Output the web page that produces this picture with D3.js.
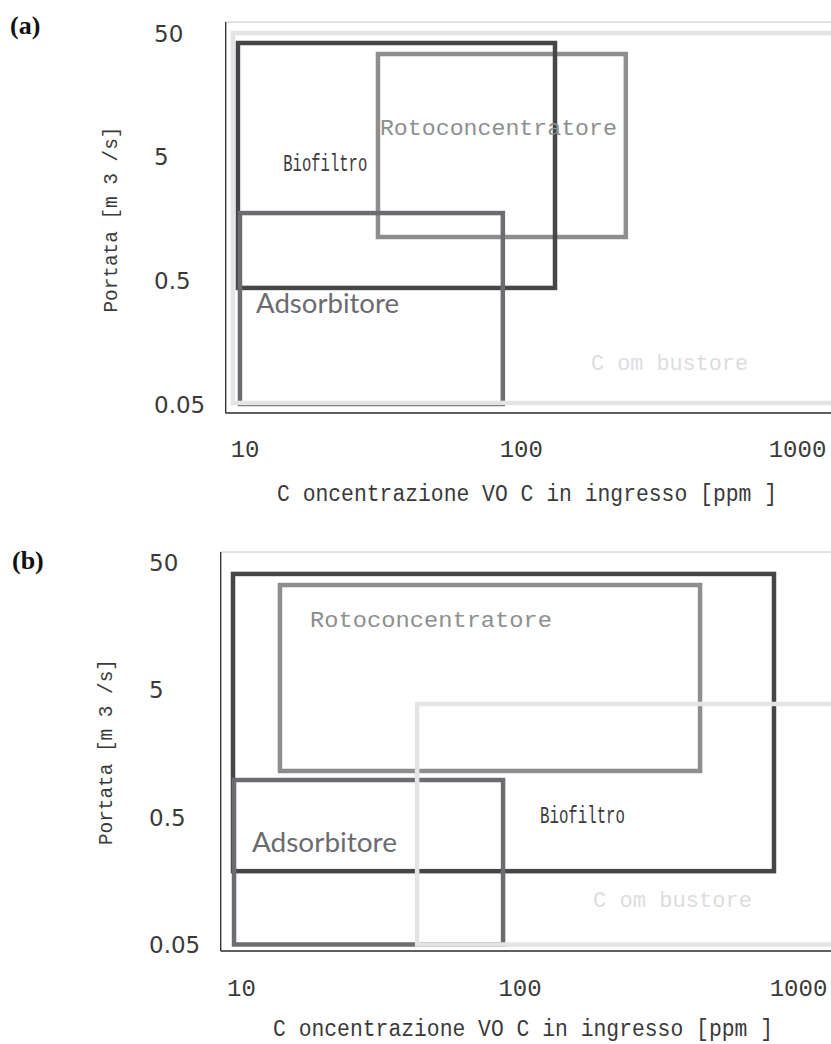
<!DOCTYPE html>
<html>
<head>
<meta charset="utf-8">
<script src="https://cdn.jsdelivr.net/npm/d3@7"></script>
<style>
  html, body { margin: 0; padding: 0; background: #fff; }
  svg { display: block; }
</style>
</head>
<body>
<svg id="chart" width="831" height="1044"></svg>
<script>
// ---------------- DATA ----------------
const panelNames = ["(a)", "(b)"];
const technologies = ["Rotoconcentratore", "Biofiltro", "Adsorbitore", "Combustore"];
const techLabels = ["Rotoconcentratore", "Biofiltro", "Adsorbitore", "C om bustore"];

// panel (a): operating ranges [VOC ppm] x [m3/s]
const xMinA = [30.4, 9.46, 9.62, 9.08];
const xMaxA = [240, 133, 86.1, 1400];
const yMinA = [1.12, 0.434, 0.05, 0.051];
const yMaxA = [33.8, 41.5, 1.75, 50];
const labelXA = [30.9, 13.8, 11.0, 179.6];
const labelYA = [7.48, 3.83, 0.272, 0.094];

// panel (b)
const xMinB = [13.8, 9.36, 9.44, 42.9];
const xMaxB = [445, 820, 87.3, 1500];
const yMinB = [1.148, 0.188, 0.05, 0.05];
const yMaxB = [33.0, 40.3, 0.975, 3.85];
const labelXB = [17.7, 118.5, 10.95, 183.6];
const labelYB = [15.5, 0.449, 0.266, 0.0984];

const xTicks = [10, 100, 1000];
const xTickLabels = ["10", "100", "1000"];
const yTicks = [50, 5, 0.5, 0.05];
const yTickLabels = ["50", "5", "0.5", "0.05"];
const xTitle = "C oncentrazione VO C in ingresso [ppm ]";
const yTitle = "Portata [m 3 /s]";

// ---------------- STYLE / LAYOUT ----------------
const techColors = ["#8d8f8f", "#464648", "#6c6c70", "#e4e4e7"];
const techTextColors = ["#8d8f8f", "#3a3a3c", "#6c6c70", "#dcdcdf"];
const techFont = [
  { family: "Liberation Mono", size: 22, len: [237, 242] },
  { family: "Liberation Mono", size: 23, len: [84, 85] },
  { family: "Lato", size: 26, len: [143, 145] },
  { family: "Liberation Mono", size: 22, len: [157, 159] }
];
const layouts = [
  { xr: [244.6, 797], yr: [404, 33], frameL: 225.7, frameT: 22, frameB: 413,
    yTickX: 154, yTitleX: 117, yTitleY: 219.5, xTickY: 457, xTitleY: 501, xTitleX: 527,
    nameX: 10, nameY: 34,
    xMin: xMinA, xMax: xMaxA, yMin: yMinA, yMax: yMaxA, lx: labelXA, ly: labelYA },
  { xr: [241, 798], yr: [944.5, 562], frameL: 220.7, frameT: 552, frameB: 951,
    yTickX: 149, yTitleX: 112, yTitleY: 752, xTickY: 996, xTitleY: 1036, xTitleX: 523,
    nameX: 12, nameY: 569,
    xMin: xMinB, xMax: xMaxB, yMin: yMinB, yMax: yMaxB, lx: labelXB, ly: labelYB }
];

const svg = d3.select("#chart");
svg.append("rect").attr("width", 831).attr("height", 1044).attr("fill", "#fff");

layouts.forEach((L, p) => {
  const x = d3.scaleLog().domain([10, 1000]).range(L.xr);
  const y = d3.scaleLog().domain([0.05, 50]).range(L.yr);
  const g = svg.append("g");

  // frame
  g.append("line").attr("x1", L.frameL).attr("x2", 831).attr("y1", L.frameT).attr("y2", L.frameT)
    .attr("stroke", "#c4c4c4").attr("stroke-width", 1);
  g.append("line").attr("x1", L.frameL).attr("x2", L.frameL).attr("y1", L.frameT).attr("y2", L.frameB)
    .attr("stroke", "#2a2a2a").attr("stroke-width", 1.3);
  g.append("line").attr("x1", L.frameL).attr("x2", 831).attr("y1", L.frameB).attr("y2", L.frameB)
    .attr("stroke", "#2a2a2a").attr("stroke-width", 1.3);

  // boxes
  const rows = technologies.map((t, i) => ({
    t, i, x0: L.xMin[i], x1: L.xMax[i], y0: L.yMin[i], y1: L.yMax[i]
  }));
  g.selectAll("rect.box").data(rows).enter().append("rect")
    .attr("class", "box")
    .attr("x", d => x(d.x0))
    .attr("y", d => y(d.y1))
    .attr("width", d => x(d.x1) - x(d.x0))
    .attr("height", d => y(d.y0) - y(d.y1))
    .attr("fill", "none")
    .attr("stroke", d => techColors[d.i])
    .attr("stroke-width", 4.5);

  // labels
  g.selectAll("text.lab").data(rows).enter().append("text")
    .attr("class", "lab")
    .attr("x", d => x(L.lx[d.i]))
    .attr("y", d => y(L.ly[d.i]))
    .attr("font-family", d => techFont[d.i].family)
    .attr("font-size", d => techFont[d.i].size)
    .attr("textLength", d => techFont[d.i].len[p])
    .attr("lengthAdjust", "spacingAndGlyphs")
    .attr("fill", d => techTextColors[d.i])
    .text(d => techLabels[d.i]);

  // x tick labels
  const xa = d3.axisBottom(x).tickValues(xTicks).tickSize(0).tickFormat((d, i) => xTickLabels[i]);
  const xg = g.append("g").attr("transform", `translate(0,${L.xTickY})`).call(xa);
  xg.select(".domain").remove();
  xg.selectAll("text").attr("dy", 0).attr("y", 0)
    .attr("font-family", "Liberation Mono").attr("font-size", 24).attr("fill", "#3a3a3a");

  // y tick labels
  const ya = d3.axisLeft(y).tickValues(yTicks).tickSize(0).tickFormat((d, i) => yTickLabels[i]);
  const yg = g.append("g").attr("transform", `translate(${L.yTickX},0)`).call(ya);
  yg.select(".domain").remove();
  yg.selectAll("text").attr("x", 0).attr("text-anchor", "start").attr("dy", "0.35em")
    .attr("font-family", "DejaVu Sans").attr("font-size", 23).attr("fill", "#3a3a3a");

  // titles
  g.append("text").attr("x", L.xTitleX).attr("y", L.xTitleY).attr("text-anchor", "middle")
    .attr("font-family", "Liberation Mono").attr("font-size", 23).attr("fill", "#3a3a3a")
    .attr("textLength", 500).attr("lengthAdjust", "spacingAndGlyphs")
    .text(xTitle);
  g.append("text").attr("transform", `translate(${L.yTitleX},${L.yTitleY}) rotate(-90)`)
    .attr("text-anchor", "middle")
    .attr("font-family", "Liberation Mono").attr("font-size", 21).attr("fill", "#3a3a3a")
    .attr("textLength", 186).attr("lengthAdjust", "spacingAndGlyphs")
    .text(yTitle);

  // panel name
  g.append("text").attr("x", L.nameX).attr("y", L.nameY)
    .attr("font-family", "Liberation Serif").attr("font-weight", "bold")
    .style("font-size", "26px")
    .attr("fill", "#111").text(panelNames[p]);
});
</script>
</body>
</html>
